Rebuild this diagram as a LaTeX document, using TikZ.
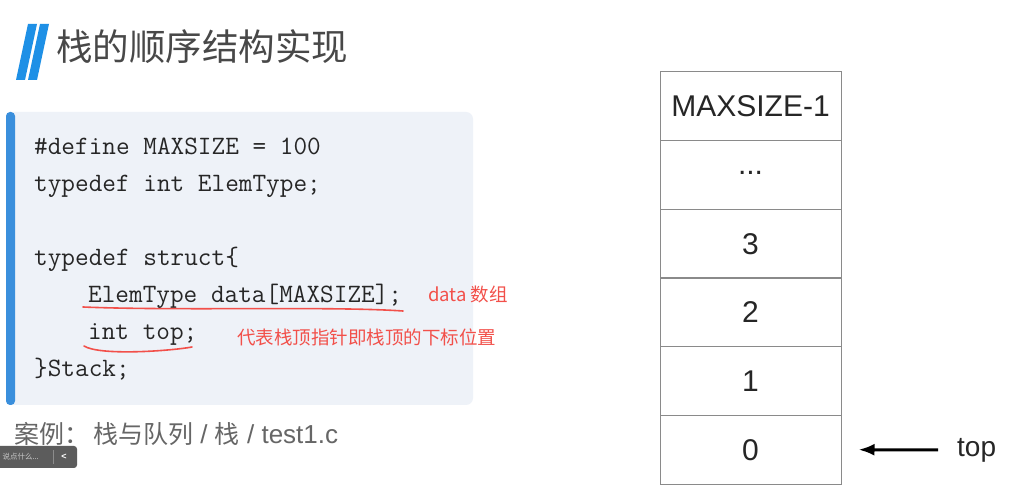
\documentclass[tikz,border=0pt]{standalone}
\usepackage{fontspec}
\setmainfont{Liberation Sans}
\newfontfamily\cjk{Noto Sans CJK SC}
\usetikzlibrary{arrows.meta}
\definecolor{titlegray}{HTML}{484848}
\definecolor{capgray}{HTML}{666666}
\definecolor{codebg}{HTML}{EEF2F8}
\definecolor{barblue}{HTML}{3A8FDC}
\definecolor{slashblue}{HTML}{1E90E6}
\definecolor{codetxt}{HTML}{262626}
\definecolor{annot}{HTML}{F2504A}
\definecolor{cellline}{HTML}{8A8A8A}
\definecolor{widgetgray}{HTML}{5C5C5C}
\definecolor{widgetline}{HTML}{8C8C8C}
\definecolor{widgettext}{HTML}{C8C8C8}
\tikzset{
  codeline/.style={anchor=base west, inner sep=0pt, text=codetxt, font=\ttfamily\fontsize{26.5}{30}\selectfont},
  note/.style={anchor=west, inner sep=0pt, text=annot, font=\cjk\fontsize{18.5}{22}\selectfont},
  cell/.style={draw=cellline, line width=1pt, minimum width=181pt, minimum height=68.67pt, inner sep=0pt, text=black!85, font=\fontsize{30}{34}\selectfont},
  uline/.style={draw=annot, line width=1.6pt, line cap=round},
  ptr/.style={line width=3pt, -{Latex[length=16pt,width=12pt]}},
}
\begin{document}
\begin{tikzpicture}[x=1pt,y=-1pt]
\useasboundingbox (0,0) rectangle (1013,494);
\fill[white] (0,0) rectangle (1013,494);
% title slashes
\fill[slashblue] (28,24) -- (37,24) -- (25,80) -- (16,80) -- cycle;
\fill[slashblue] (40,24) -- (49,24) -- (37,80) -- (28,80) -- cycle;
\node[anchor=west, inner sep=0pt, text=titlegray, font=\cjk\fontsize{36.5}{40}\selectfont] (title) at (56,47) {栈的顺序结构实现};
% code box
\fill[codebg, rounded corners=7pt] (6,112) rectangle (473,405);
\fill[barblue, rounded corners=4pt] (6,112) rectangle (15,405);
\node[codeline] (l1) at (34,155) {\#define MAXSIZE = 100};
\node[codeline] (l2) at (34,192) {typedef int ElemType;};
\node[codeline] (l4) at (34,266) {typedef struct\{};
\node[codeline] (l5) at (88,303) {ElemType data[MAXSIZE];};
\node[codeline] (l6) at (88,340) {int top;};
\node[codeline] (l7) at (34,377) {\}Stack;};
% red annotations
\draw[uline] (83,307) .. controls (180,311) and (330,306) .. (403,311);
\draw[uline] (84,346) .. controls (100,356) and (170,351) .. (192,347);
\node[note] (n1) at (428,294) {data 数组};
\node[note] (n2) at (237,337) {代表栈顶指针即栈顶的下标位置};
% caption
\node[anchor=west, inner sep=0pt, text=capgray, font=\fontsize{26}{30}\selectfont] (cap) at (14,434) {{\cjk\fontsize{25}{30}\selectfont 案例：}\hspace{4pt}{\cjk\fontsize{25}{30}\selectfont 栈与队列} / {\cjk\fontsize{25}{30}\selectfont 栈} / test1.c};
% overlay widget
\fill[widgetgray, rounded corners=3pt] (-10,446) rectangle (77,468);
\draw[widgetline, line width=0.6pt] (53,450) -- (53,464);
\node[anchor=east, inner sep=0pt, text=widgettext, font=\cjk\fontsize{7.5}{9}\selectfont] (ov) at (39,457) {说点什么...};
\node[inner sep=0pt, text=white, font=\bfseries\fontsize{9}{10}\selectfont] (ovb) at (64,456.5) {<};
% stack
\node[cell] (c5) at (750.5,106.3) {MAXSIZE-1};
\node[cell] (c4) at (750.5,175.0) {\raisebox{0.12em}{...}};
\node[cell] (c3) at (750.5,243.7) {3};
\node[cell] (c2) at (750.5,312.3) {2};
\node[cell] (c1) at (750.5,381.0) {1};
\node[cell] (c0) at (750.5,449.7) {0};
% top pointer
\node[anchor=west, inner sep=0pt, text=black!85, font=\fontsize{28}{32}\selectfont] (toplab) at (957,450) {top};
\draw[ptr] ([xshift=-19pt]toplab.west) -- ([xshift=17pt]c0.east);
\end{tikzpicture}
\end{document}
